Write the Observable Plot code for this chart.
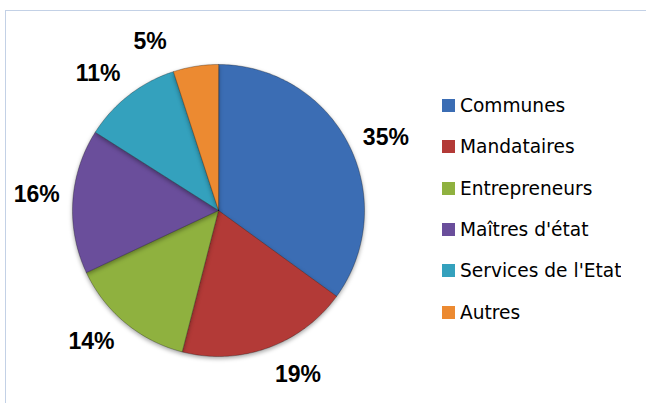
<!DOCTYPE html>
<html>
<head>
<meta charset="utf-8">
<script src="https://cdn.jsdelivr.net/npm/d3@7"></script>
<script src="https://cdn.jsdelivr.net/npm/@observablehq/plot@0.6"></script>
<style>
  html, body { margin: 0; padding: 0; background: #fff; }
  #wrap { position: relative; width: 646px; height: 403px; overflow: hidden; background: #fff; }
  #frame { position: absolute; left: 5px; top: 10px; width: 700px; height: 500px;
           border-top: 1px solid #c3d1e6; border-left: 1px solid #c3d1e6; }
  #chart { position: absolute; left: 0; top: 0; }
  #legend { position: absolute; left: 442px; top: 85px; }
  .lg-swatches-columns { columns: 1 !important; }
  .lg-swatch { height: 41.3px; display: flex; align-items: center; padding: 0 !important; }
  .lg-swatch svg { margin-right: 5px !important; }
  .lg-swatch-label { font-family: "DejaVu Sans", sans-serif; font-size: 18.6px; color: #000; white-space: nowrap; }
  .slices path { filter: drop-shadow(0px 2px 2px rgba(0,0,0,0.35)); }
</style>
</head>
<body>
<div id="wrap">
  <div id="frame"></div>
  <div id="chart"></div>
  <div id="legend"></div>
</div>
<script>
// ---- data ----
const categories = ["Communes", "Mandataires", "Entrepreneurs", "Maîtres d'état", "Services de l'Etat", "Autres"];
const shares = [35, 19, 14, 16, 11, 5];
const labels = ["35%", "19%", "14%", "16%", "11%", "5%"];

// ---- style ----
const colors = ["#3b6db4", "#b33a37", "#8fb13f", "#6a4e9b", "#34a1bd", "#ec8a31"];
const labelNudgeDeg = [3.5, -6, 4.5, 1.5, -3.5, -13]; // best-fit label placement
const labelRadius = 1.25;

// ---- geometry from data (angles clockwise from 12 o'clock) ----
const total = d3.sum(shares);
let acc = 0;
const slices = categories.map((name, i) => {
  const a0 = acc / total * 2 * Math.PI;
  acc += shares[i];
  const a1 = acc / total * 2 * Math.PI;
  return {name, a0, a1, mid: (a0 + a1) / 2, label: labels[i], i};
});
const polyPts = slices.flatMap(s => {
  const pts = [{name: s.name, x: 0, y: 0}];
  const n = Math.max(2, Math.ceil((s.a1 - s.a0) / (Math.PI / 180)));
  for (let k = 0; k <= n; k++) {
    const a = s.a0 + (s.a1 - s.a0) * k / n;
    pts.push({name: s.name, x: Math.sin(a), y: Math.cos(a)});
  }
  return pts;
});
const labelPts = slices.map(s => {
  const a = s.mid + labelNudgeDeg[s.i] * Math.PI / 180;
  return {label: s.label, x: labelRadius * Math.sin(a), y: labelRadius * Math.cos(a)};
});

const chart = Plot.plot({
  width: 646,
  height: 403,
  style: {background: "transparent", overflow: "visible"},
  x: {domain: [-1, 1], range: [72, 364], axis: null},
  y: {domain: [-1, 1], range: [356, 64], axis: null},
  color: {domain: categories, range: colors},
  marks: [
    Plot.line(polyPts, {x: "x", y: "y", z: "name", fill: "name", stroke: "rgba(0,0,0,0.28)", strokeWidth: 1, curve: "linear-closed", className: "slices"}),
    Plot.text(labelPts, {x: "x", y: "y", text: "label", fontSize: 23, fontWeight: "bold", fontFamily: "Liberation Sans, Arial, sans-serif", fill: "#000"})
  ]
});
document.getElementById("chart").append(chart);

const legend = Plot.legend({
  color: {type: "ordinal", domain: categories, range: colors},
  legend: "swatches",
  columns: 1,
  swatchSize: 13,
  className: "lg"
});
document.getElementById("legend").append(legend);
</script>
</body>
</html>
